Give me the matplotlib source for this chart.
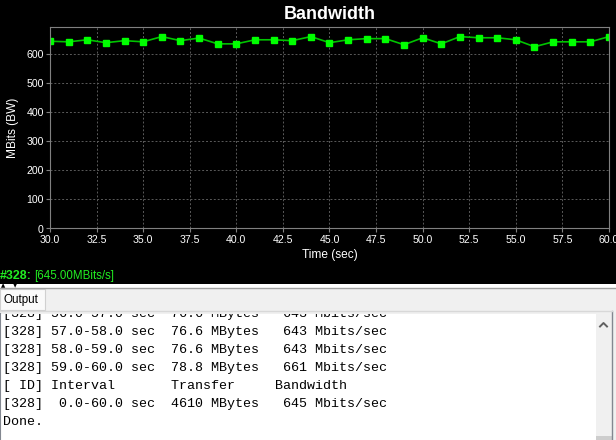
import matplotlib.pyplot as plt
from matplotlib.patches import Rectangle

# bandwidth samples, one per second (Mbits/s)
time_sec = [30, 31, 32, 33, 34, 35, 36, 37, 38, 39, 40, 41, 42, 43, 44, 45,
            46, 47, 48, 49, 50, 51, 52, 53, 54, 55, 56, 57, 58, 59, 60]
bandwidth = [645, 643, 650, 640, 647, 643, 661, 647, 656, 636, 636, 650, 650, 647, 661, 640,
             650, 654, 654, 633, 657, 636, 661, 657, 657, 650, 626, 643, 643, 643, 661]

x_ticks = [30.0, 32.5, 35.0, 37.5, 40.0, 42.5, 45.0, 47.5, 50.0, 52.5, 55.0, 57.5, 60.0]
y_ticks = [0, 100, 200, 300, 400, 500, 600]

# iperf console lines shown under the chart
output_lines = [
    "[328] 56.0-57.0 sec  76.6 MBytes   643 Mbits/sec",
    "[328] 57.0-58.0 sec  76.6 MBytes   643 Mbits/sec",
    "[328] 58.0-59.0 sec  76.6 MBytes   643 Mbits/sec",
    "[328] 59.0-60.0 sec  78.8 MBytes   661 Mbits/sec",
    "[ ID] Interval       Transfer     Bandwidth",
    "[328]  0.0-60.0 sec  4610 MBytes   645 Mbits/sec",
    "Done.",
]

W, H = 616, 440
sans = "Liberation Sans"

fig = plt.figure(figsize=(W / 100, H / 100), dpi=100, facecolor="black")

# full figure overlay in pixel coords for the window parts
ui = fig.add_axes([0, 0, 1, 1], zorder=0)
ui.set_xlim(0, W)
ui.set_ylim(H, 0)
ui.axis("off")

# light strip + panel below the chart
ui.add_patch(Rectangle((0, 284), W, 4, facecolor="white", edgecolor="none"))
ui.add_patch(Rectangle((0, 288), W, H - 288, facecolor="#f0f0f0", edgecolor="none"))
ui.plot([0, W], [288, 288], color="#a0a0a0", lw=1)
ui.text(3.5, 286, "\u25b2", fontsize=4, color="black", ha="center", va="center")
ui.text(15, 286, "\u25bc", fontsize=4, color="black", ha="center", va="center")

# "Output" tab
ui.add_patch(Rectangle((0, 289), 45, 21.5, facecolor="#fafafa", edgecolor="#d0d0d0", lw=0.8))
ui.text(4, 300.5, "Output", fontsize=8.4, family=sans, color="black", va="center")

# scrollbar
ui.add_patch(Rectangle((596, 312), 16, H - 312, facecolor="#f0f0f0", edgecolor="none"))
ui.add_patch(Rectangle((596, 436), 16, 4, facecolor="#cdcdcd", edgecolor="none"))
ui.plot([600, 603.5, 607], [326.5, 323, 326.5], color="#606060", lw=1.4)
ui.plot([612, 612], [311, H], color="#828790", lw=1)
ui.plot([0, 612], [311.5, 311.5], color="#d8d8d8", lw=1)

# status text
ui.text(0, 276, "#328:", fontsize=8.9, family=sans, weight="bold", color="#22ee22", va="center")
ui.text(34.5, 276, "[645.00MBits/s]", fontsize=8.3, family=sans, color="#22ee22", va="center")

# console text area (clips the half-hidden first line)
top = 313.5
txt = fig.add_axes([0, 0, 596 / W, (H - top) / H], zorder=1)
txt.set_xlim(0, 596)
txt.set_ylim(H, top)
txt.set_facecolor("white")
for s in txt.spines.values():
    s.set_visible(False)
txt.spines["left"].set_visible(True)
txt.spines["left"].set_color("#828790")
txt.set_xticks([])
txt.set_yticks([])
for i, line in enumerate(output_lines):
    txt.text(3, 314.3 + i * 18, line, family="Liberation Mono", fontsize=9.6,
             color="black", va="center", clip_on=True)

# the bandwidth chart
ax = fig.add_axes([50 / W, 1 - 228.5 / H, (609 - 50) / W, (228.5 - 27) / H], zorder=2)
ax.set_facecolor("black")
ax.plot(time_sec, bandwidth, color="#00c400", lw=1.2, marker="s", markersize=4.8,
        markerfacecolor="#00ff00", markeredgecolor="#00ff00")
ax.set_xlim(30, 60)
ax.set_ylim(0, max(bandwidth) * 1.05)
ax.set_xticks(x_ticks)
ax.set_xticklabels([f"{v:.1f}" for v in x_ticks])
ax.set_yticks(y_ticks)
ax.grid(True, color="#5a5a5a", lw=0.7, linestyle=(0, (2, 2)))
for s in ax.spines.values():
    s.set_color("#808080")
ax.tick_params(colors="#808080", labelcolor="white", length=3, width=0.8, pad=1.5,
               labelsize=7.6)
for lab in ax.get_xticklabels() + ax.get_yticklabels():
    lab.set_family(sans)

ax.set_title("Bandwidth", color="white", fontsize=13, weight="bold", family=sans, pad=6)
ax.set_xlabel("Time (sec)", color="white", fontsize=8.6, family=sans, labelpad=3)
ax.set_ylabel("MBits (BW)", color="white", fontsize=8.6, family=sans, labelpad=5)

fig.savefig("out.png", dpi=100, facecolor="black")
